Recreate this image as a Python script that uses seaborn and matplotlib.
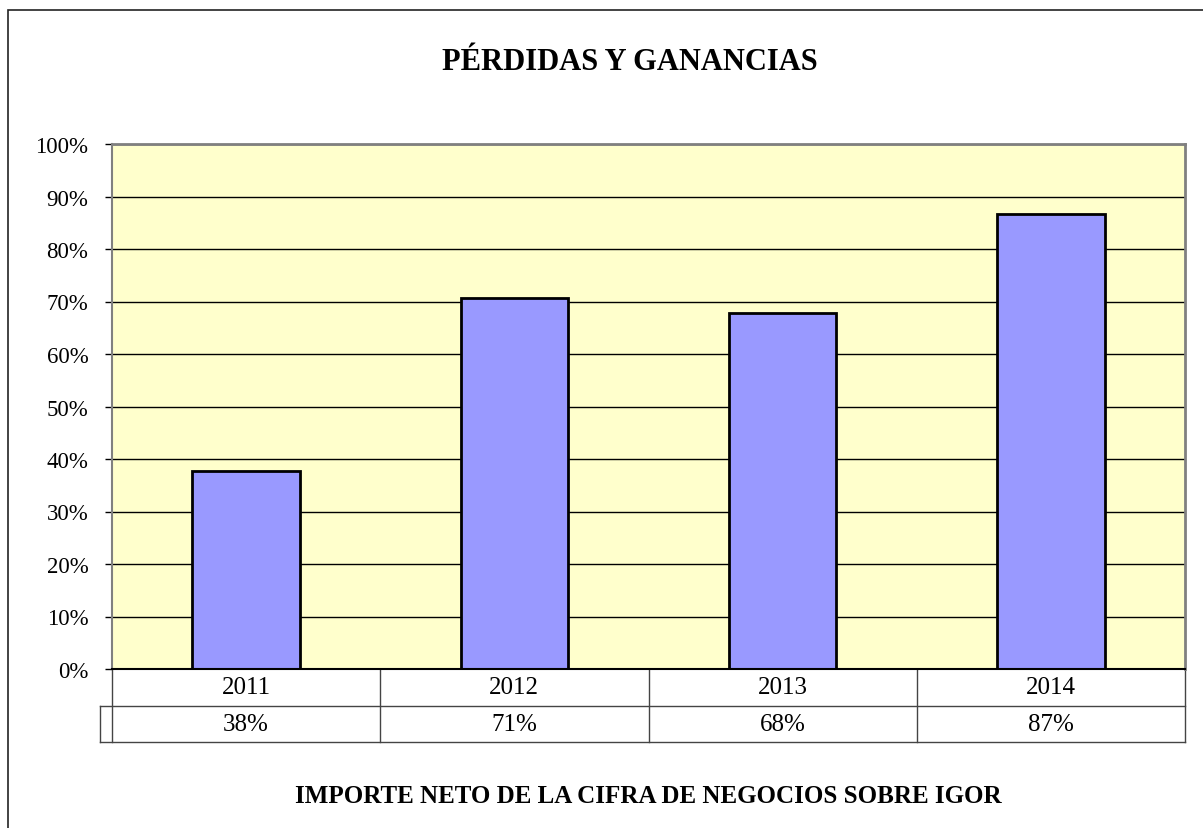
import numpy as np
import pandas as pd
import matplotlib
matplotlib.use("Agg")
import matplotlib.pyplot as plt
import seaborn as sns
from matplotlib.patches import Rectangle
from matplotlib.ticker import PercentFormatter

# Chart data
years = ['2011', '2012', '2013', '2014']
ratios = [0.378, 0.706, 0.678, 0.866]
ratio_labels = ['38%', '71%', '68%', '87%']

df = pd.DataFrame({'Year': years, 'Ratio': ratios})

plt.rcParams['font.family'] = ['Liberation Serif', 'DejaVu Serif']

fig = plt.figure(figsize=(12.03, 8.29), dpi=100)
ax = fig.add_axes([112 / 1203, 1 - 670 / 829, (1185 - 112) / 1203, (670 - 145) / 829])

# Outer chart frame
fig.patches.append(Rectangle((8 / 1203, -0.05), 1.2, 1 - 11 / 829 + 0.05,
                             transform=fig.transFigure, fill=False,
                             edgecolor='#222222', linewidth=1.2))

ax.set_facecolor('#FFFFCC')
ax.set_axisbelow(True)
ax.yaxis.grid(True, color='black', linewidth=1)

sns.barplot(data=df, x='Year', y='Ratio', color='#9999FF', width=0.4,
            edgecolor='black', linewidth=2, saturation=1, ax=ax)

ax.set_ylim(0, 1)
ax.set_xlim(-0.5, 3.5)
ax.set_yticks(np.arange(0, 1.01, 0.1))
ax.yaxis.set_major_formatter(PercentFormatter(1.0, decimals=0))
ax.tick_params(axis='y', direction='out', length=5, width=1, color='black',
               labelsize=16.5, pad=12)
ax.set_xticks([])
ax.set_xlabel('')
ax.set_ylabel('')

for side in ['top', 'right']:
    ax.spines[side].set_color('#808080')
    ax.spines[side].set_linewidth(2)
ax.spines['left'].set_color('#808080')
ax.spines['left'].set_linewidth(1.5)
ax.spines['bottom'].set_color('black')
ax.spines['bottom'].set_linewidth(1.5)

# Data table under the axis
tr = ax.get_xaxis_transform()
row_h = 36.5 / 525
left_key = -0.5 - 12 / 268
line_kw = dict(color='#444444', linewidth=1, transform=tr, clip_on=False)
ax.plot([left_key, 3.5], [-row_h, -row_h], **line_kw)
ax.plot([left_key, 3.5], [-2 * row_h, -2 * row_h], **line_kw)
ax.plot([left_key, left_key], [-row_h, -2 * row_h], **line_kw)
for b in np.arange(-0.5, 4.0, 1.0):
    ax.plot([b, b], [0, -2 * row_h], **line_kw)
for i, (yr, lab) in enumerate(zip(years, ratio_labels)):
    ax.text(i, -row_h / 2, yr, transform=tr, ha='center', va='center', fontsize=18)
    ax.text(i, -1.5 * row_h, lab, transform=tr, ha='center', va='center', fontsize=18)

fig.text(630 / 1203, 1 - 62 / 829, 'PÉRDIDAS Y GANANCIAS', ha='center', va='center',
         fontsize=22, fontweight='bold')
fig.text(648 / 1203, 1 - 797 / 829, 'IMPORTE NETO DE LA CIFRA DE NEGOCIOS SOBRE IGOR',
         ha='center', va='center', fontsize=18, fontweight='bold')

fig.savefig('out.png', dpi=100, facecolor='white')
